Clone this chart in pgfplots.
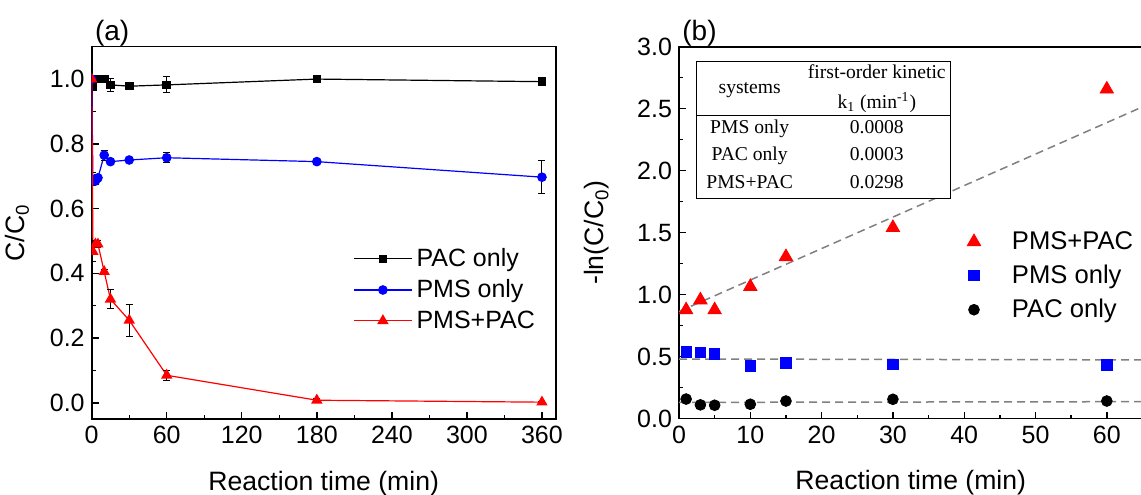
\documentclass[border=0pt]{standalone}
\usepackage{fontspec}
\setmainfont{Liberation Sans}
\newfontfamily\tabfont{Liberation Serif}
\usepackage{array}
\usepackage{pgfplots}
\usepackage{pgfplotstable}
\pgfplotsset{compat=1.18}

\pgfplotstableread{
t pac pace pms pmse pp ppe
0 1.000 0 1.000 0 1.000 0
1 0.975 0.006 0.690 0.020 0.467 0.030
3 1.000 0.004 0.685 0.010 0.490 0.010
5 1.000 0.004 0.695 0.010 0.490 0.010
10 1.000 0.004 0.765 0.015 0.405 0.008
15 0.982 0.020 0.745 0.008 0.320 0.030
30 0.978 0.005 0.750 0.008 0.255 0.050
60 0.982 0.025 0.757 0.015 0.085 0.015
180 1.000 0.005 0.745 0.008 0.008 0.005
360 0.992 0.005 0.697 0.050 0.002 0.003
}\dataA

\pgfplotstableread{
t pp pms pac pace
1 0.876 0.539 0.157 0.020
3 0.956 0.531 0.110 0.012
5 0.876 0.520 0.107 0.015
10 1.064 0.426 0.115 0.012
15 1.305 0.450 0.141 0.012
30 1.540 0.437 0.155 0.018
60 2.657 0.432 0.141 0.018
}\dataB

\definecolor{fitgray}{RGB}{128,128,128}

\pgfplotsset{
  myaxis/.style={
    scale only axis,
    tick align=inside,
    tick pos=left,
    major tick length=3.5pt,
    minor tick length=2pt,
    axis line style={line width=0.8pt},
    every tick/.style={line width=0.7pt, black},
    ticklabel style={font=\fontsize{12.5}{14}\selectfont},
    label style={font=\fontsize{13.3}{15}\selectfont},
    xlabel style={yshift=-6.8pt},
    /pgf/number format/assume math mode=true,
  },
  ebar/.style={error bars/.cd, y dir=both, y explicit,
    error bar style={black, line width=0.5pt},
    error mark options={rotate=90, mark size=1.75pt, black, line width=0.5pt}},
}

\begin{document}
\begin{tikzpicture}[x=1pt,y=1pt]
\useasboundingbox (0,0) rectangle (570.5,247);
% ---------------- panel (a)
\begin{axis}[myaxis, name=a,
  clip=true, clip marker paths=true,
  at={(45.85pt,37.5pt)}, anchor=south west,
  width=232pt, height=186.15pt,
  xmin=0, xmax=371, ymin=-0.05, ymax=1.1,
  xtick={0,60,...,360}, minor x tick num=1,
  ytick={0,0.2,...,1.0}, minor y tick num=1,
  yticklabel style={/pgf/number format/.cd, fixed, fixed zerofill, precision=1},
  xlabel={Reaction time (min)},
  ylabel={C/C\textsubscript{0}},
  ylabel style={yshift=3.5pt},
  legend style={draw=none, fill=none, at={(rel axis cs:0.55,0.481)}, anchor=north west,
    font=\fontsize{12.5}{14}\selectfont, row sep=1pt},
  legend cell align=left,
  legend image code/.code={\draw[mark repeat=2,mark phase=2,#1] plot coordinates {(0pt,0pt) (14.5pt,0pt) (29pt,0pt)};},
]
\addplot[black, line width=0.6pt, mark=square*, mark size=1.85pt, ebar] table[x=t, y=pac, y error=pace] {\dataA};
\addlegendentry{PAC only}
\addplot[blue, line width=0.6pt, mark=*, mark size=2.1pt, ebar] table[x=t, y=pms, y error=pmse] {\dataA};
\addlegendentry{PMS only}
\addplot[red, line width=0.6pt, mark=triangle*, mark size=2.7pt, ebar] table[x=t, y=pp, y error=ppe] {\dataA};
\addlegendentry{PMS+PAC}
\end{axis}
\node[anchor=base west, inner sep=0pt, font=\fontsize{14}{16}\selectfont] at ([xshift=1.5pt,yshift=3.3pt]a.north west) {(a)};
% ---------------- panel (b)
\begin{axis}[myaxis, name=b, clip=false,
  at={(339.5pt,37.75pt)}, anchor=south west,
  width=235.3pt, height=185.9pt,
  xmin=0, xmax=66, ymin=0, ymax=3,
  xtick={0,10,...,60}, minor x tick num=1,
  ytick={0,0.5,...,3.0}, minor y tick num=1,
  yticklabel style={/pgf/number format/.cd, fixed, fixed zerofill, precision=1},
  xlabel={Reaction time (min)},
  xlabel style={at={(ticklabel cs:0.4925)}},
  ylabel={-ln(C/C\textsubscript{0})},
  ylabel style={yshift=7pt},
  legend style={draw=none, fill=none, at={(rel axis cs:0.575,0.526)}, anchor=north west,
    font=\fontsize{12.8}{14}\selectfont, row sep=2.3pt},
  legend cell align=left,
  legend image code/.code={\path[draw=none,fill=none] (0pt,-1pt) rectangle (26pt,1pt); \draw[#1] plot[only marks] coordinates {(9pt,0pt)};},
]
\addplot[fitgray, line width=0.75pt, dash pattern=on 4pt off 2.5pt, forget plot] coordinates {(0,0.863) (66,2.54)};
\addplot[fitgray, line width=0.75pt, dash pattern=on 4pt off 2.5pt, forget plot] coordinates {(0,0.480) (66,0.473)};
\addplot[fitgray, line width=0.75pt, dash pattern=on 4pt off 2.5pt, forget plot] coordinates {(0,0.130) (66,0.136)};
\addplot[only marks, red, mark=triangle*, mark size=3.85pt] table[x=t, y=pp] {\dataB};
\addlegendentry{PMS+PAC}
\addplot[only marks, blue, mark=square*, mark size=2.6pt] table[x=t, y=pms] {\dataB};
\addlegendentry{PMS only}
\addplot[only marks, black, mark=*, mark size=2.7pt, ebar] table[x=t, y=pac, y error=pace] {\dataB};
\addlegendentry{PAC only}
\node[anchor=base west, inner sep=0pt, font=\fontsize{14}{16}\selectfont] at ([xshift=1.5pt,yshift=3.3pt]rel axis cs:0,1) {(b)};
\node[draw, line width=0.7pt, fill=white, inner sep=0pt, anchor=north west,
  font=\tabfont\fontsize{9.8}{11}\selectfont] at (axis cs:2.34,2.885) {%
  \setlength{\tabcolsep}{0pt}%
  \begin{tabular}{@{}>{\centering\arraybackslash}p{53.3pt}>{\centering\arraybackslash}p{73.8pt}@{}}
  \raisebox{-7.5pt}[0pt][0pt]{systems} & \rule{0pt}{8.5pt}first-order kinetic\\[3.5pt]
   & k\textsubscript{1} (min\textsuperscript{-1})\\ \hline
  \rule[-5.2pt]{0pt}{13.75pt}PMS only & 0.0008\\
  \rule[-5.2pt]{0pt}{13.75pt}PAC only & 0.0003\\
  \rule[-5.2pt]{0pt}{13.75pt}PMS+PAC & 0.0298\\
  \end{tabular}};
\end{axis}
\end{tikzpicture}
\end{document}
